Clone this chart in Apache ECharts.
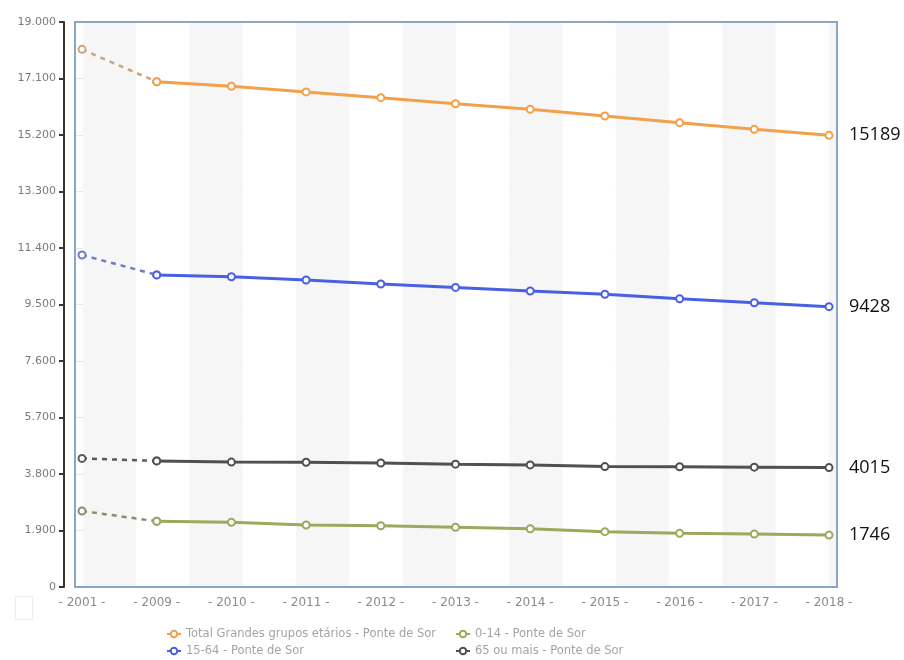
<!DOCTYPE html>
<html>
<head>
<meta charset="utf-8">
<script src="https://cdn.jsdelivr.net/npm/echarts@6/dist/echarts.min.js"></script>
<style>
  html, body { margin: 0; padding: 0; background: #ffffff; }
  #chart { width: 904px; height: 660px; }
</style>
</head>
<body>
<div id="chart"></div>
<script>
// Population by age group, Ponte de Sor
const years = ['2001', '2009', '2010', '2011', '2012', '2013', '2014', '2015', '2016', '2017', '2018'];
const total = [18080, 16990, 16840, 16650, 16455, 16250, 16065, 15840, 15615, 15390, 15189];
const age15to64 = [11165, 10495, 10435, 10325, 10190, 10075, 9955, 9845, 9695, 9560, 9428];
const age65plus = [4325, 4240, 4200, 4195, 4170, 4130, 4105, 4050, 4045, 4030, 4015];
const age0to14 = [2555, 2210, 2175, 2085, 2060, 2010, 1960, 1860, 1805, 1780, 1746];
const yTicks = { min: 0, max: 19000, step: 1900 };

const seriesDefs = [
  { name: 'Total Grandes grupos etários - Ponte de Sor', data: total, color: '#f3a04a', dash: '#c9a582' },
  { name: '0-14 - Ponte de Sor', data: age0to14, color: '#9ea85c', dash: '#8c8c74' },
  { name: '15-64 - Ponte de Sor', data: age15to64, color: '#4a60e2', dash: '#6f7bc4' },
  { name: '65 ou mais - Ponte de Sor', data: age65plus, color: '#505050', dash: '#5a5a5a' }
];

// first interval (2001 -> 2009) is drawn dashed, the yearly series solid
const series = [];
seriesDefs.forEach(function (d) {
  series.push({
    name: d.name + ' (2001)',
    type: 'line',
    xAxisIndex: 0, yAxisIndex: 0,
    data: d.data.map(function (v, i) { return i <= 1 ? v : null; }),
    symbol: 'emptyCircle', symbolSize: 7,
    lineStyle: { color: d.dash, width: 2.5, type: [5, 5] },
    itemStyle: { color: d.dash, borderColor: d.color, borderWidth: 1.2 },
    z: 3
  });
  series.push({
    name: d.name,
    type: 'line',
    xAxisIndex: 0, yAxisIndex: 0,
    data: d.data.map(function (v, i) { return i >= 1 ? v : null; }),
    symbol: 'emptyCircle', symbolSize: 7,
    lineStyle: { color: d.color, width: 3 },
    itemStyle: { color: d.color, borderWidth: 1.2 },
    endLabel: {
      show: true,
      formatter: '{c}',
      distance: 20,
      color: '#111111',
      fontFamily: 'Open Sans',
      fontSize: 18
    },
    z: 4
  });
});

// legend laid out as two rows of two entries
const legendSlots = [
  { name: seriesDefs[0].name, left: 166, top: 628 },
  { name: seriesDefs[1].name, left: 455, top: 628 },
  { name: seriesDefs[2].name, left: 166, top: 645 },
  { name: seriesDefs[3].name, left: 455, top: 645 }
];
const legends = legendSlots.map(function (s) {
  return {
    left: s.left, top: s.top, orient: 'horizontal',
    itemWidth: 14, itemHeight: 8, padding: 0,
    data: [s.name],
    textStyle: { color: '#a4a4a4', fontFamily: 'DejaVu Sans', fontSize: 11.5 }
  };
});

const chart = echarts.init(document.getElementById('chart'), null, { renderer: 'canvas' });
chart.setOption({
  animation: false,
  backgroundColor: '#ffffff',
  grid: [
    // data grid
    { left: 82, right: 75, top: 22, bottom: 73 },
    // framed plot box with horizontal grid lines
    { left: 75, right: 67, top: 22, bottom: 73, show: true, borderColor: '#86a8c6', borderWidth: 2, backgroundColor: 'transparent', z: 1 },
    // alternating column shading
    { left: 83, right: 67, top: 22, bottom: 73 }
  ],
  xAxis: [
    {
      type: 'category', gridIndex: 0, data: years, boundaryGap: false,
      axisLine: { show: false }, axisTick: { show: false },
      axisLabel: { formatter: '- {value} -', color: '#8a8a8a', fontFamily: 'DejaVu Sans', fontSize: 12, margin: 10 },
      splitLine: { show: false }
    },
    { type: 'value', gridIndex: 1, min: 0, max: 1, show: false },
    {
      type: 'value', gridIndex: 2, min: 0, max: 14.15, interval: 1,
      axisLine: { show: false }, axisTick: { show: false }, axisLabel: { show: false },
      splitLine: { show: false },
      splitArea: { show: true, areaStyle: { color: ['#f6f6f6', '#ffffff'] } }
    }
  ],
  yAxis: [
    {
      type: 'value', gridIndex: 0, min: yTicks.min, max: yTicks.max, interval: yTicks.step,
      offset: 18,
      axisLine: { show: true, lineStyle: { color: '#3e342c', width: 2 } },
      axisTick: { show: true, inside: false, length: 5, lineStyle: { color: '#3e342c', width: 2 } },
      axisLabel: {
        color: '#7a7a7a', fontFamily: 'DejaVu Sans', fontSize: 11, margin: 8,
        formatter: function (v) { return v === 0 ? '0' : (v / 1000).toFixed(3); }
      },
      splitLine: { show: false }
    },
    {
      type: 'value', gridIndex: 1, min: yTicks.min, max: yTicks.max, interval: yTicks.step,
      axisLine: { show: false }, axisTick: { show: false }, axisLabel: { show: false },
      splitLine: { show: true, lineStyle: { color: '#e6e6e6', width: 1 } }
    },
    {
      type: 'value', gridIndex: 2, min: 0, max: 1, show: false
    }
  ],
  legend: legends,
  graphic: [
    { type: 'rect', left: 13, top: 594, shape: { width: 17, height: 23 }, style: { fill: 'none', stroke: '#ececec', lineWidth: 1 } }
  ],
  series: series
});
</script>
</body>
</html>
